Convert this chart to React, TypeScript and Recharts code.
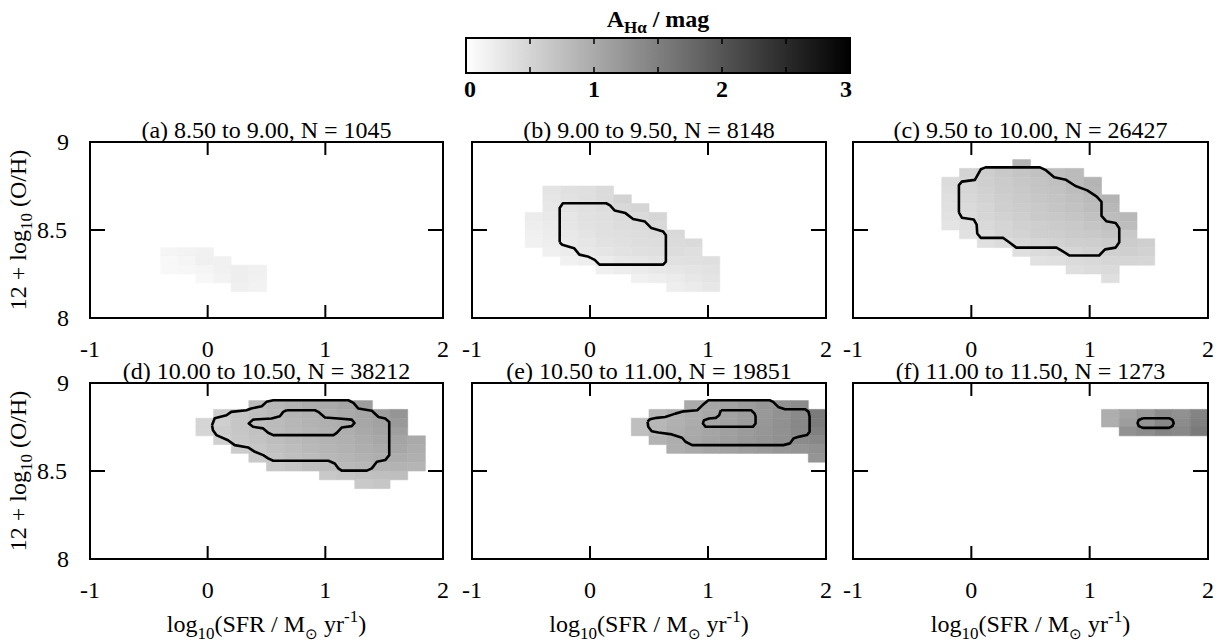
import React from 'react';
import { ComposedChart, XAxis, YAxis, ReferenceArea, Line, Label } from 'recharts';

const FONT = '"Liberation Serif", "Times New Roman", serif';

// bins: 0.15 dex in SFR, 0.05 dex in O/H
const CELL_W = 0.15;
const CELL_H = 0.05;
const X_TICKS = [-1, 0, 1, 2];
const Y_TICKS = [8, 8.5, 9];
const CB_TICKS = [0, 0.5, 1, 1.5, 2, 2.5, 3];

type Row = { y: number; x: number; a: number[] };
type Pt = [number, number];

const titles = [
  '(a) 8.50 to 9.00, N = 1045',
  '(b) 9.00 to 9.50, N = 8148',
  '(c) 9.50 to 10.00, N = 26427',
  '(d) 10.00 to 10.50, N = 38212',
  '(e) 10.50 to 11.00, N = 19851',
  '(f) 11.00 to 11.50, N = 1273',
];

// each row: lower O/H edge, first SFR bin edge, A_Ha per bin
const cellsA: Row[] = [
  { y: 8.35, x: -0.4, a: [0.12, 0.14, 0.16] },
  { y: 8.3, x: -0.4, a: [0.08, 0.12, 0.18, 0.16] },
  { y: 8.25, x: -0.4, a: [0.08, 0.1, 0.12, 0.16, 0.2, 0.18] },
  { y: 8.2, x: -0.1, a: [0.1, 0.14, 0.2, 0.16] },
  { y: 8.15, x: 0.2, a: [0.18, 0.15] },
];

const cellsB: Row[] = [
  { y: 8.7, x: -0.4, a: [0.32, 0.36, 0.38, 0.42] },
  { y: 8.65, x: -0.4, a: [0.3, 0.34, 0.38, 0.42, 0.52] },
  { y: 8.6, x: -0.4, a: [0.28, 0.33, 0.37, 0.4, 0.45, 0.5] },
  { y: 8.55, x: -0.55, a: [0.22, 0.26, 0.3, 0.35, 0.38, 0.41, 0.44, 0.48] },
  { y: 8.5, x: -0.55, a: [0.2, 0.24, 0.3, 0.34, 0.37, 0.4, 0.42, 0.45] },
  { y: 8.45, x: -0.55, a: [0.18, 0.22, 0.27, 0.32, 0.36, 0.38, 0.4, 0.42, 0.45] },
  { y: 8.4, x: -0.55, a: [0.16, 0.2, 0.25, 0.3, 0.34, 0.37, 0.39, 0.4, 0.42, 0.44] },
  { y: 8.35, x: -0.4, a: [0.18, 0.22, 0.27, 0.31, 0.34, 0.36, 0.38, 0.4, 0.38] },
  { y: 8.3, x: -0.25, a: [0.16, 0.2, 0.24, 0.28, 0.31, 0.33, 0.35, 0.36, 0.38] },
  { y: 8.25, x: 0.05, a: [0.18, 0.21, 0.24, 0.27, 0.3, 0.32, 0.34] },
  { y: 8.2, x: 0.35, a: [0.18, 0.2, 0.24, 0.28, 0.32] },
  { y: 8.15, x: 0.65, a: [0.2, 0.24, 0.28] },
];

const cellsC: Row[] = [
  { y: 8.85, x: 0.35, a: [0.88] },
  { y: 8.8, x: -0.1, a: [0.52, 0.58, 0.63, 0.68, 0.73, 0.76, 0.8] },
  { y: 8.75, x: -0.25, a: [0.42, 0.5, 0.56, 0.61, 0.66, 0.7, 0.74, 0.8, 0.88] },
  { y: 8.7, x: -0.25, a: [0.4, 0.48, 0.54, 0.6, 0.64, 0.68, 0.72, 0.78, 0.86] },
  { y: 8.65, x: -0.25, a: [0.38, 0.46, 0.52, 0.58, 0.62, 0.66, 0.7, 0.74, 0.8, 0.88] },
  { y: 8.6, x: -0.25, a: [0.36, 0.44, 0.5, 0.56, 0.6, 0.64, 0.68, 0.72, 0.78, 0.84] },
  { y: 8.55, x: -0.25, a: [0.34, 0.41, 0.48, 0.53, 0.58, 0.62, 0.65, 0.68, 0.73, 0.78, 0.84] },
  { y: 8.5, x: -0.25, a: [0.32, 0.38, 0.45, 0.5, 0.55, 0.58, 0.61, 0.64, 0.68, 0.74, 0.78] },
  { y: 8.45, x: -0.1, a: [0.35, 0.41, 0.48, 0.52, 0.56, 0.58, 0.61, 0.64, 0.68, 0.63] },
  { y: 8.4, x: 0.05, a: [0.36, 0.41, 0.46, 0.5, 0.53, 0.56, 0.58, 0.61, 0.6, 0.56] },
  { y: 8.35, x: 0.35, a: [0.38, 0.42, 0.46, 0.5, 0.53, 0.55, 0.56, 0.53] },
  { y: 8.3, x: 0.5, a: [0.35, 0.38, 0.42, 0.45, 0.48, 0.5, 0.48] },
  { y: 8.25, x: 0.8, a: [0.38, 0.41, 0.43] },
  { y: 8.2, x: 1.1, a: [0.38] },
];

const cellsD: Row[] = [
  { y: 8.85, x: 0.35, a: [0.8, 0.85, 0.9, 0.95, 1.0, 1.05, 1.15] },
  { y: 8.8, x: 0.05, a: [0.6, 0.67, 0.75, 0.81, 0.87, 0.91, 0.95, 1.0, 1.05, 1.13, 1.25] },
  { y: 8.75, x: -0.1, a: [0.5, 0.57, 0.67, 0.75, 0.8, 0.85, 0.9, 0.93, 0.97, 1.03, 1.1, 1.2] },
  { y: 8.7, x: -0.1, a: [0.5, 0.6, 0.67, 0.73, 0.79, 0.83, 0.87, 0.91, 0.95, 1.01, 1.07, 1.13] },
  { y: 8.65, x: 0.05, a: [0.55, 0.65, 0.71, 0.77, 0.81, 0.85, 0.89, 0.93, 0.98, 1.03, 1.07, 1.0] },
  { y: 8.6, x: 0.2, a: [0.6, 0.67, 0.73, 0.78, 0.82, 0.87, 0.91, 0.95, 0.99, 1.03, 0.97] },
  { y: 8.55, x: 0.35, a: [0.63, 0.69, 0.75, 0.79, 0.83, 0.87, 0.91, 0.95, 0.97, 0.93] },
  { y: 8.5, x: 0.5, a: [0.65, 0.7, 0.75, 0.79, 0.82, 0.85, 0.88, 0.9, 0.87] },
  { y: 8.45, x: 0.95, a: [0.65, 0.69, 0.73, 0.75, 0.77] },
  { y: 8.4, x: 1.25, a: [0.63, 0.67] },
];

const cellsE: Row[] = [
  { y: 8.85, x: 0.8, a: [1.0, 1.05, 1.1, 1.15, 1.22, 1.28, 1.35] },
  { y: 8.8, x: 0.5, a: [0.85, 0.92, 0.98, 1.04, 1.1, 1.15, 1.2, 1.28, 1.38, 1.55] },
  { y: 8.75, x: 0.35, a: [0.75, 0.85, 0.92, 0.98, 1.05, 1.1, 1.16, 1.22, 1.3, 1.4, 1.55] },
  { y: 8.7, x: 0.35, a: [0.75, 0.85, 0.94, 1.0, 1.06, 1.12, 1.18, 1.24, 1.3, 1.4, 1.5] },
  { y: 8.65, x: 0.5, a: [0.9, 0.96, 1.02, 1.08, 1.14, 1.2, 1.25, 1.3, 1.35, 1.4] },
  { y: 8.6, x: 0.65, a: [0.95, 1.0, 1.05, 1.1, 1.14, 1.18, 1.22, 1.25, 1.3] },
  { y: 8.55, x: 1.85, a: [1.25] },
];

const cellsF: Row[] = [
  { y: 8.8, x: 1.1, a: [0.95, 1.1, 1.2, 1.35, 1.3, 1.45] },
  { y: 8.75, x: 1.1, a: [0.95, 1.15, 1.25, 1.4, 1.35, 1.5] },
  { y: 8.7, x: 1.25, a: [1.3, 1.35, 1.45, 1.4, 1.55] },
];

// density contours (log SFR, O/H)
const contourB: Pt[] = [
  [-0.257, 8.43], [-0.257, 8.625], [-0.23, 8.652], [0.137, 8.652], [0.17, 8.64], [0.208, 8.611],
  [0.3, 8.596], [0.365, 8.562], [0.466, 8.548], [0.52, 8.511], [0.62, 8.492], [0.643, 8.47],
  [0.643, 8.32], [0.62, 8.303], [0.08, 8.303], [0.04, 8.33], [-0.02, 8.35], [-0.09, 8.36],
  [-0.135, 8.397], [-0.235, 8.416], [-0.257, 8.43],
];

const contourC: Pt[] = [
  [-0.105, 8.6], [-0.105, 8.755], [-0.08, 8.775], [0.03, 8.785], [0.08, 8.845], [0.12, 8.856],
  [0.58, 8.856], [0.63, 8.84], [0.7, 8.8], [0.8, 8.785], [0.88, 8.75], [0.98, 8.725],
  [1.06, 8.69], [1.1, 8.66], [1.1, 8.58], [1.14, 8.55], [1.22, 8.54], [1.25, 8.51],
  [1.25, 8.43], [1.22, 8.4], [1.13, 8.39], [1.08, 8.355], [0.83, 8.355], [0.77, 8.38],
  [0.72, 8.4], [0.38, 8.4], [0.32, 8.43], [0.27, 8.455], [0.08, 8.455], [0.05, 8.48],
  [0.045, 8.53], [0.02, 8.56], [-0.08, 8.57], [-0.105, 8.6],
];

const contourDOuter: Pt[] = [
  [0.037, 8.76], [0.06, 8.8], [0.16, 8.817], [0.2, 8.836], [0.33, 8.845], [0.37, 8.855],
  [0.46, 8.868], [0.5, 8.893], [0.557, 8.902], [1.196, 8.902], [1.239, 8.887], [1.281, 8.855],
  [1.395, 8.842], [1.452, 8.807], [1.509, 8.798], [1.543, 8.779], [1.543, 8.59], [1.509, 8.562],
  [1.438, 8.553], [1.395, 8.515], [1.353, 8.502], [1.139, 8.502], [1.111, 8.515], [1.08, 8.543],
  [1.026, 8.558], [0.557, 8.558], [0.514, 8.572], [0.472, 8.59], [0.401, 8.609], [0.344, 8.634],
  [0.23, 8.647], [0.173, 8.675], [0.074, 8.704], [0.045, 8.732], [0.037, 8.76],
];

const contourDInner: Pt[] = [
  [0.671, 8.845], [0.912, 8.845], [0.94, 8.836], [0.997, 8.804], [1.111, 8.798], [1.225, 8.792],
  [1.248, 8.773], [1.225, 8.755], [1.139, 8.747], [1.097, 8.717], [1.069, 8.704], [0.557, 8.704],
  [0.514, 8.717], [0.472, 8.742], [0.386, 8.751], [0.349, 8.77], [0.386, 8.792], [0.543, 8.798],
  [0.614, 8.811], [0.642, 8.836], [0.671, 8.845],
];

const contourEOuter: Pt[] = [
  [0.488, 8.78], [0.508, 8.794], [0.566, 8.802], [0.637, 8.807], [0.723, 8.826], [0.794, 8.839],
  [0.909, 8.845], [0.952, 8.873], [1.003, 8.902], [1.523, 8.902], [1.552, 8.893], [1.595, 8.864],
  [1.652, 8.851], [1.824, 8.851], [1.852, 8.836], [1.861, 8.81], [1.861, 8.723], [1.838, 8.704],
  [1.766, 8.694], [1.724, 8.685], [1.695, 8.657], [1.638, 8.647], [0.866, 8.647], [0.809, 8.666],
  [0.78, 8.689], [0.694, 8.708], [0.58, 8.719], [0.523, 8.726], [0.494, 8.751], [0.488, 8.78],
];

const contourEInner: Pt[] = [
  [1.109, 8.845], [1.366, 8.845], [1.395, 8.826], [1.403, 8.81], [1.403, 8.77], [1.38, 8.751],
  [0.98, 8.751], [0.957, 8.77], [0.966, 8.789], [1.009, 8.798], [1.066, 8.802], [1.095, 8.817],
  [1.109, 8.845],
];

const contourF: Pt[] = [
  [1.45, 8.8], [1.67, 8.8], [1.7, 8.79], [1.71, 8.773], [1.7, 8.755], [1.67, 8.745],
  [1.45, 8.745], [1.415, 8.755], [1.405, 8.773], [1.415, 8.79], [1.45, 8.8],
];

const panelCells = [cellsA, cellsB, cellsC, cellsD, cellsE, cellsF];
const panelContours = [[], [contourB], [contourC], [contourDOuter, contourDInner], [contourEOuter, contourEInner], [contourF]];

// plot box geometry
const COL_LEFT = [90, 472, 853];
const COL_W = [353, 354, 355];
const ROW_TOP = [142, 383];
const PLOT_H = 176;

const grey = (a: number) => {
  const v = Math.round(255 * (1 - a / 3));
  return `rgb(${v},${v},${v})`;
};
const r2 = (v: number) => Math.round(v * 100) / 100;

const txt = { fontFamily: FONT, fontSize: 24, fill: '#000' } as const;

const BottomTick = (props: any) => {
  const { x, y, payload } = props;
  return (
    <g>
      <line x1={x} y1={y} x2={x} y2={y - 13} stroke="#000" strokeWidth={2} />
      <text x={x} y={y + 39} textAnchor="middle" {...txt}>{payload.value}</text>
    </g>
  );
};

const TopTick = (props: any) => (
  <line x1={props.x} y1={props.y} x2={props.x} y2={props.y + 13} stroke="#000" strokeWidth={2} />
);

const RightTick = (props: any) => (
  <line x1={props.x} y1={props.y} x2={props.x - 15} y2={props.y} stroke="#000" strokeWidth={2} />
);

const makeLeftTick = (labels: boolean) => (props: any) => {
  const { x, y, payload } = props;
  const shift = Number.isInteger(payload.value) ? 0 : 2;
  return (
    <g>
      <line x1={x} y1={y} x2={x + 15} y2={y} stroke="#000" strokeWidth={2} />
      {labels && (
        <text x={x - 21 - shift} y={y + 8} textAnchor="end" {...txt}>{payload.value}</text>
      )}
    </g>
  );
};

function Panel({ idx }: { idx: number }) {
  const col = idx % 3;
  const row = Math.floor(idx / 3);
  const w = COL_W[col];
  const left = COL_LEFT[col];
  const top = ROW_TOP[row];
  const cells = panelCells[idx].flatMap((r) =>
    r.a.map((a, i) => ({ x1: r2(r.x + i * CELL_W), y1: r.y, a })),
  );
  return (
    <div style={{ position: 'absolute', left: left - 90, top: top - 45 }}>
      <ComposedChart width={90 + w + 6} height={45 + PLOT_H + 90} margin={{ top: 15, left: 20, right: 5, bottom: 10 }}>
        <XAxis type="number" dataKey="x" domain={[-1, 2]} ticks={X_TICKS} interval={0} allowDataOverflow
          height={80} tickSize={0} tickMargin={0} axisLine={false} tickLine={false} tick={BottomTick} />
        <XAxis xAxisId="top" orientation="top" type="number" dataKey="x" domain={[-1, 2]} ticks={X_TICKS}
          interval={0} allowDataOverflow height={30} tickSize={0} tickMargin={0} axisLine={false} tickLine={false} tick={TopTick} />
        <YAxis type="number" dataKey="y" domain={[8, 9]} ticks={Y_TICKS} interval={0} allowDataOverflow
          width={70} tickSize={0} tickMargin={0} axisLine={false} tickLine={false} tick={makeLeftTick(col === 0)} />
        <YAxis yAxisId="right" orientation="right" type="number" dataKey="y" domain={[8, 9]} ticks={Y_TICKS}
          interval={0} allowDataOverflow width={1} tickSize={0} tickMargin={0} axisLine={false} tickLine={false} tick={RightTick} />
        {cells.map((c, i) => (
          <ReferenceArea key={i} x1={c.x1} x2={r2(c.x1 + CELL_W)} y1={c.y1} y2={r2(c.y1 + CELL_H)}
            fill={grey(c.a)} fillOpacity={1} stroke={grey(c.a)} strokeWidth={0.6} ifOverflow="visible" />
        ))}
        {panelContours[idx].map((pts, i) => (
          <Line key={'c' + i} data={pts.map(([x, y]) => ({ x, y }))} dataKey="y" type="linear"
            stroke="#000" strokeWidth={2.6} dot={false} activeDot={false} isAnimationActive={false}
            strokeLinejoin="round" />
        ))}
        <ReferenceArea x1={-1} x2={2} y1={8} y2={9} fill="none" fillOpacity={0} stroke="#000" strokeWidth={2} ifOverflow="visible">
          <Label content={(lp: any) => {
            const vb = lp.viewBox || { x: 90, y: 45, width: w, height: PLOT_H };
            return (
              <text x={vb.x + vb.width / 2} y={vb.y - 4} textAnchor="middle" {...txt}>{titles[idx]}</text>
            );
          }} />
          {col === 0 && (
            <Label content={(lp: any) => {
              const vb = lp.viewBox || { x: 90, y: 45, width: w, height: PLOT_H };
              const cx = vb.x - 64;
              const cy = vb.y + vb.height / 2;
              return (
                <text x={cx} y={cy} textAnchor="middle" transform={`rotate(-90 ${cx} ${cy})`} {...txt}>
                  12 + log<tspan fontSize={17} dy={6}>10</tspan><tspan dy={-6}> (O/H)</tspan>
                </text>
              );
            }} />
          )}
          {row === 1 && (
            <Label content={(lp: any) => {
              const vb = lp.viewBox || { x: 90, y: 45, width: w, height: PLOT_H };
              return (
                <text x={vb.x + vb.width / 2} y={vb.y + vb.height + 73} textAnchor="middle" {...txt}>
                  log<tspan fontSize={17} dy={7}>10</tspan>
                  <tspan dy={-7}>(SFR / M</tspan>
                  <tspan fontSize={15} dy={7}>⊙</tspan>
                  <tspan dy={-7}> yr</tspan>
                  <tspan fontSize={17} dy={-10}>-1</tspan>
                  <tspan dy={10}>)</tspan>
                </text>
              );
            }} />
          )}
        </ReferenceArea>
      </ComposedChart>
    </div>
  );
}

const CbTick = (props: any) => {
  const { x, y, payload } = props;
  const v = payload.value;
  const inner = v > 0 && v < 3;
  const dx = v === 0 ? 4 : v === 3 ? -4 : 0;
  return (
    <g>
      {inner && <line x1={x} y1={y} x2={x} y2={y - 6} stroke="#000" strokeWidth={1.5} />}
      {inner && <line x1={x} y1={y - 35} x2={x} y2={y - 29} stroke="#000" strokeWidth={1.5} />}
      {Number.isInteger(v) && (
        <text x={x + dx} y={y + 24} textAnchor="middle" {...txt} fontWeight="bold">{v}</text>
      )}
    </g>
  );
};

function ColorBar() {
  return (
    <div style={{ position: 'absolute', left: 446, top: 0 }}>
      <svg width={0} height={0} style={{ position: 'absolute' }}>
        <defs>
          <linearGradient id="cbGrad" x1="0" y1="0" x2="1" y2="0">
            <stop offset="0%" stopColor="#ffffff" />
            <stop offset="100%" stopColor="#000000" />
          </linearGradient>
        </defs>
      </svg>
      <ComposedChart width={420} height={110} margin={{ top: 38, left: 19, right: 16, bottom: 7 }}>
        <XAxis type="number" dataKey="x" domain={[0, 3]} ticks={CB_TICKS} interval={0} allowDataOverflow height={30}
          tickSize={0} tickMargin={0} axisLine={false} tickLine={false} tick={CbTick} />
        <YAxis type="number" dataKey="y" domain={[0, 1]} allowDataOverflow width={1}
          tick={false} axisLine={false} tickLine={false} />
        <ReferenceArea x1={0} x2={3} y1={0} y2={1} fill="url(#cbGrad)" fillOpacity={1} stroke="#000" strokeWidth={2} ifOverflow="visible">
          <Label content={(lp: any) => {
            const vb = lp.viewBox || { x: 20, y: 38, width: 384, height: 35 };
            return (
              <text x={vb.x + vb.width / 2} y={vb.y - 11} textAnchor="middle" {...txt} fontWeight="bold">
                A<tspan fontSize={17} dy={6}>Hα</tspan><tspan dy={-6}> / mag</tspan>
              </text>
            );
          }} />
        </ReferenceArea>
      </ComposedChart>
    </div>
  );
}

export default function App() {
  return (
    <div style={{ position: 'absolute', left: 0, top: 0, width: 1223, height: 644, background: '#fff', fontFamily: FONT }}>
      <ColorBar />
      {[0, 1, 2, 3, 4, 5].map((i) => (
        <Panel key={i} idx={i} />
      ))}
    </div>
  );
}
